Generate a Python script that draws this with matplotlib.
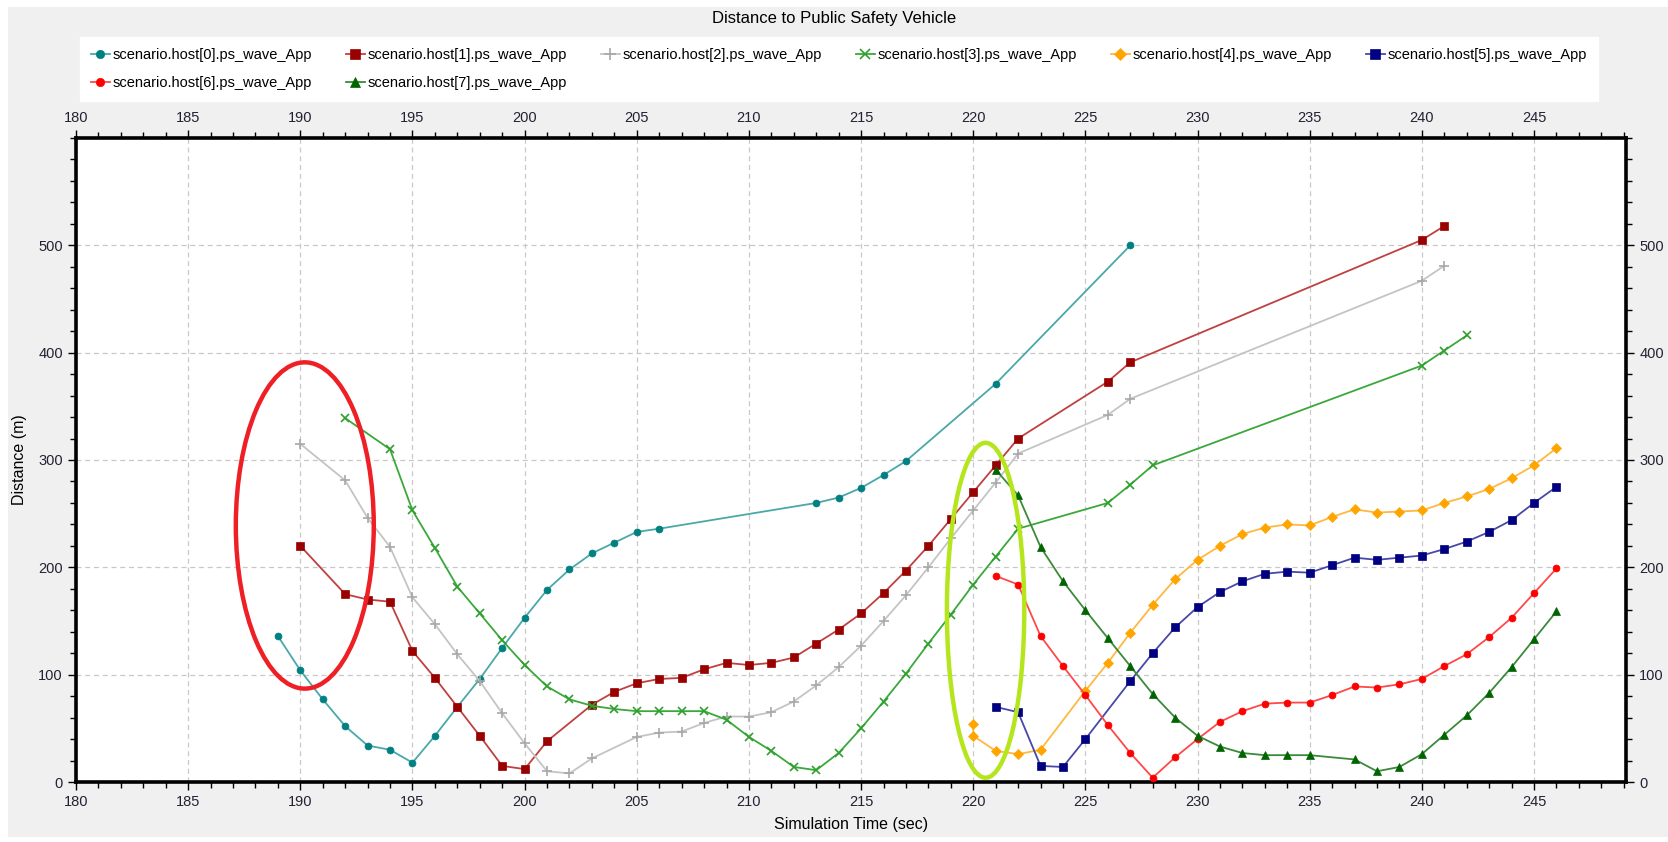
import matplotlib
matplotlib.use("Agg")
import matplotlib.pyplot as plt
from matplotlib.patches import Ellipse, Rectangle
from matplotlib.ticker import MultipleLocator
from matplotlib.lines import Line2D

plt.rcParams['font.family'] = ['Liberation Sans', 'DejaVu Sans']

labels = ["scenario.host[%d].ps_wave_App" % i for i in range(8)]

h0_x = [189,190,191,192,193,194,195,196,197,198,199,200,201,202,203,204,205,206,213,214,215,216,217,221,227]
h0_y = [136,104,77,52,34,30,18,43,70,96,125,153,179,198,213,223,233,236,260,265,274,286,299,371,500]

h1_x = [190,192,193,194,195,196,197,198,199,200,201,203,204,205,206,207,208,209,210,211,212,213,214,215,216,217,218,219,220,221,222,226,227,240,241]
h1_y = [220,175,170,168,122,97,70,43,15,12,38,72,84,92,96,97,105,111,109,111,116,129,142,157,176,197,220,245,270,295,320,373,391,505,518]

h2_x = [190,192,193,194,195,196,197,198,199,200,201,202,203,205,206,207,208,209,210,211,212,213,214,215,216,217,218,219,220,221,222,226,227,240,241]
h2_y = [315,281,246,219,172,147,119,94,64,36,10,8,22,42,46,47,55,61,61,65,75,90,107,127,150,174,200,227,253,279,306,342,357,467,481]

h3_x = [192,194,195,196,197,198,199,200,201,202,203,204,205,206,207,208,209,210,211,212,213,214,215,216,217,218,219,220,221,222,226,227,228,240,241,242]
h3_y = [339,310,253,218,182,157,132,109,89,77,71,68,66,66,66,66,58,42,29,14,11,27,50,75,101,129,156,184,210,236,260,277,295,388,402,416]

h4_x = [220,220,221,222,223,225,226,227,228,229,230,231,232,233,234,235,236,237,238,239,240,241,242,243,244,245,246]
h4_y = [54,43,29,26,30,85,111,139,165,189,207,220,231,237,240,239,247,254,251,252,253,260,266,273,283,295,311]

h5_x = [221,222,223,224,225,227,228,229,230,231,232,233,234,235,236,237,238,239,240,241,242,243,244,245,246]
h5_y = [70,65,15,14,40,94,120,144,163,177,187,194,196,195,202,209,207,209,211,217,224,233,244,260,275]

h6_x = [221,222,223,224,225,226,227,228,229,230,231,232,233,234,235,236,237,238,239,240,241,242,243,244,245,246]
h6_y = [192,184,136,108,81,53,27,4,23,40,56,66,73,74,74,81,89,88,91,96,108,119,135,153,176,199]

h7_x = [221,222,223,224,225,226,227,228,229,230,231,232,233,234,235,237,238,239,240,241,242,243,244,245,246]
h7_y = [291,267,219,187,160,134,108,82,60,43,33,27,25,25,25,21,10,14,26,44,62,83,107,133,159]

series_x = [h0_x, h1_x, h2_x, h3_x, h4_x, h5_x, h6_x, h7_x]
series_y = [h0_y, h1_y, h2_y, h3_y, h4_y, h5_y, h6_y, h7_y]

line_colors = ['#4aa8a8', '#c04040', '#c4c4c4', '#3aa83a', '#ffb840', '#4848a8', '#ff4848', '#3a8a3a']
mark_colors = ['#008080', '#990000', '#a8a8a8', '#2ea02e', '#ffa500', '#000080', '#ff0000', '#006400']
markers = ['o', 's', '+', 'x', 'D', 's', 'o', '^']
msizes = [5, 6, 7, 6, 5, 6, 5, 6]

W, H = 1668, 842
fig = plt.figure(figsize=(W/100, H/100), dpi=100, facecolor='white')
fig.patches.append(Rectangle((8/W, 5/H), 1 - 8/W, 1 - 12/H, transform=fig.transFigure,
                             facecolor='#f0f0f0', edgecolor='none', zorder=-10))

ax = fig.add_axes([76/W, (H-782)/H, (1626-76)/W, (782-138)/H])
ax.set_facecolor('white')

handles = []
for i in range(8):
    mew = 1.2 if markers[i] in ('+', 'x') else 0.5
    ax.plot(series_x[i], series_y[i], color=line_colors[i], lw=1.3,
            marker=markers[i], ms=msizes[i], mfc=mark_colors[i], mec=mark_colors[i],
            mew=mew, zorder=3)
    handles.append(Line2D([0, 1], [0, 0], color=line_colors[i], lw=1.3, marker=markers[i],
                          ms=msizes[i] + 1, mfc=mark_colors[i], mec=mark_colors[i], mew=mew))

# annotation ellipses
ax.add_patch(Ellipse((190.2, 239), 6.15, 304, fill=False, edgecolor='#ee2026', lw=3.2, zorder=5))
ax.add_patch(Ellipse((220.55, 160), 3.45, 312, fill=False, edgecolor='#b5e61d', lw=3.2, zorder=5))

ax.set_xlim(180, 249.1)
ax.set_ylim(0, 600)
ax.set_xticks(range(180, 246, 5))
ax.set_yticks(range(0, 501, 100))
ax.xaxis.set_minor_locator(MultipleLocator(1))
ax.yaxis.set_minor_locator(MultipleLocator(20))
ax.tick_params(which='both', direction='out', top=True, right=True, labeltop=True, labelright=True,
               labelsize=10.5, labelcolor='#222233', color='black')
ax.tick_params(which='major', length=6, width=1)
ax.tick_params(which='minor', length=4, width=1)
ax.tick_params(axis='x', pad=3)
for s in ax.spines.values():
    s.set_linewidth(2.6)
    s.set_color('black')
ax.grid(True, which='major', color='#c8c8c8', lw=0.9, ls=(0, (4, 3)))
ax.set_axisbelow(True)

ax.set_xlabel("Simulation Time (sec)", fontsize=11.5, labelpad=6)
ax.set_ylabel("Distance (m)", fontsize=11.5, labelpad=8)

fig.text(0.5, 1 - 18/H, "Distance to Public Safety Vehicle", ha='center', va='center', fontsize=12)

order = [0, 6, 1, 7, 2, 3, 4, 5]
leg = fig.legend([handles[k] for k in order], [labels[k] for k in order], ncol=6,
                 loc='upper left', bbox_to_anchor=(80/W, 1 - 98/H, 1518/W, 61/H), mode='expand',
                 bbox_transform=fig.transFigure, frameon=True, fancybox=False, fontsize=10.5,
                 handlelength=1.3, handletextpad=0.2, columnspacing=1.0, borderpad=0.75,
                 labelspacing=0.95, borderaxespad=0, framealpha=1.0)
leg.get_frame().set_facecolor('white')
leg.get_frame().set_edgecolor('white')

fig.savefig("out.png", dpi=100, facecolor=fig.get_facecolor())
